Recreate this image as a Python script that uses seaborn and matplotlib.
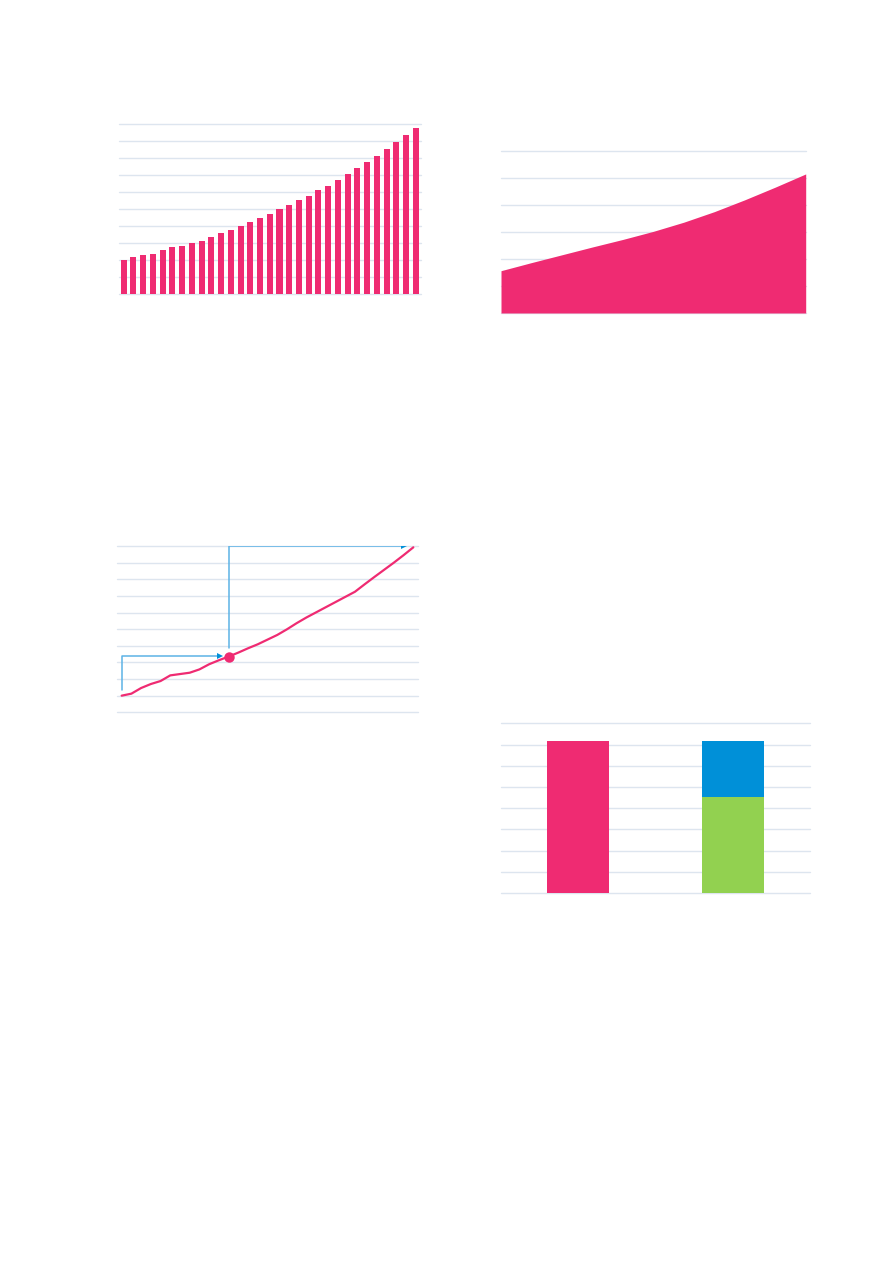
import numpy as np
import pandas as pd
import matplotlib
matplotlib.use('Agg')
import matplotlib.pyplot as plt
import seaborn as sns

PINK = '#EF2B72'
BLUE = '#0090D8'
GREEN = '#92D150'
GRID = '#dde5ef'
ARROW_LINE = '#5cb3e6'

# top-left bar chart
bar_years = list(range(31))
bar_values = [2.00, 2.18, 2.29, 2.37, 2.59, 2.75, 2.84, 2.98, 3.14, 3.35,
              3.57, 3.75, 3.98, 4.22, 4.47, 4.71, 4.98, 5.22, 5.51, 5.76,
              6.10, 6.39, 6.71, 7.06, 7.41, 7.76, 8.14, 8.53, 8.94, 9.37, 9.80]

# top-right area chart
area_x = [0, 1, 2, 3, 4, 5, 6, 7, 8, 9, 10]
area_values = [1.57, 1.87, 2.16, 2.45, 2.73, 3.03, 3.37, 3.76, 4.20, 4.67, 5.16]

# middle-left line chart
line_x = list(range(31))
line_values = [1.00, 1.12, 1.46, 1.70, 1.88, 2.22, 2.30, 2.38, 2.58, 2.89,
               3.13, 3.35, 3.59, 3.85, 4.09, 4.37, 4.65, 4.99, 5.36, 5.70,
               6.01, 6.32, 6.63, 6.94, 7.25, 7.70, 8.14, 8.57, 9.00, 9.45, 9.92]
marker_idx = 11
arrow1_x = [0, 0, 10.1]
arrow1_y = [1.34, 3.39, 3.39]
arrow2_x = [11.07, 11.07, 29.0]
arrow2_y = [3.85, 10.02, 10.02]

# bottom-right stacked bars
stack_cats = ['A', 'B']
stack_totals = [7.17, 7.17]
stack_lower_b = 4.53


def style_axes(ax, ymax, step=1):
    ax.set_ylim(0, ymax)
    ax.set_yticks(np.arange(0, ymax + 0.01, step))
    ax.yaxis.grid(True, color=GRID, linewidth=1)
    ax.xaxis.grid(False)
    ax.set_axisbelow(True)
    ax.tick_params(left=False, bottom=False, labelleft=False, labelbottom=False)
    ax.set_xlabel('')
    ax.set_ylabel('')
    for s in ax.spines.values():
        s.set_visible(False)
    for t in ax.yaxis.get_major_ticks():
        t.gridline.set_clip_on(False)


def rect(left, right, top, bottom):
    W, H = 893, 1263
    return [left / W, 1 - bottom / H, (right - left) / W, (bottom - top) / H]


def main():
    sns.set_style('white')
    fig = plt.figure(figsize=(8.93, 12.63), dpi=100)

    # bar chart
    ax1 = fig.add_axes(rect(119.3, 420.7, 124.3, 294))
    df1 = pd.DataFrame({'year': bar_years, 'value': bar_values})
    sns.barplot(data=df1, x='year', y='value', color=PINK, width=0.62,
                saturation=1, linewidth=0, ax=ax1)
    ax1.set_xlim(-0.45, 30.5)
    style_axes(ax1, 10)

    # area chart
    ax2 = fig.add_axes(rect(501, 805.7, 151.3, 313))
    df2 = pd.DataFrame({'x': area_x, 'y': area_values})
    sns.lineplot(data=df2, x='x', y='y', color=PINK, linewidth=0, ax=ax2)
    ax2.fill_between(df2['x'], 0, df2['y'], color=PINK, linewidth=0)
    ax2.set_xlim(0, 10)
    style_axes(ax2, 6)

    # line chart with arrows
    ax3 = fig.add_axes(rect(116.7, 417.7, 546, 712.3))
    df3 = pd.DataFrame({'x': line_x, 'y': line_values})
    ax3.plot(arrow1_x, arrow1_y, color=ARROW_LINE, linewidth=1.1)
    ax3.plot(arrow2_x, arrow2_y, color=ARROW_LINE, linewidth=1.1)
    ax3.plot(arrow1_x[-1], arrow1_y[-1], marker='>', color=BLUE, markersize=5,
             markeredgewidth=0)
    ax3.plot(arrow2_x[-1], arrow2_y[-1], marker='>', color=BLUE, markersize=5,
             markeredgewidth=0)
    sns.lineplot(data=df3, x='x', y='y', color=PINK, linewidth=1.6, ax=ax3)
    ax3.plot(line_x[marker_idx], line_values[marker_idx], 'o', color=PINK,
             markersize=7.5, markeredgewidth=0)
    ax3.set_xlim(-0.51, 30.45)
    style_axes(ax3, 10)

    # stacked bars
    ax4 = fig.add_axes(rect(501, 810, 723.3, 893))
    sns.barplot(x=stack_cats, y=stack_totals, hue=stack_cats,
                palette=[PINK, BLUE], width=0.4, saturation=1, linewidth=0,
                legend=False, ax=ax4)
    ax4.bar(1, stack_lower_b, width=0.4, color=GREEN, linewidth=0)
    ax4.set_xlim(-0.5, 1.5)
    style_axes(ax4, 8)

    fig.savefig('out.png', dpi=100)


if __name__ == '__main__':
    main()
